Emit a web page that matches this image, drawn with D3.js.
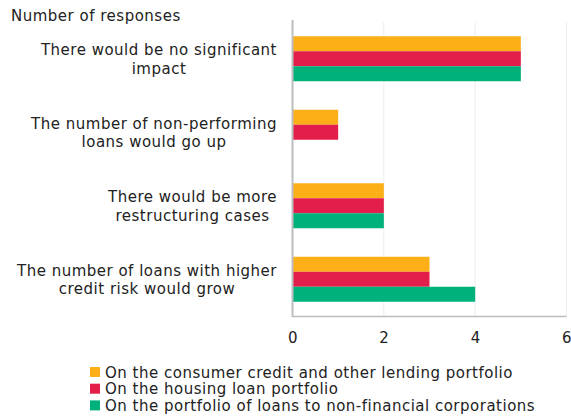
<!DOCTYPE html>
<html>
<head>
<meta charset="utf-8">
<script src="https://cdn.jsdelivr.net/npm/d3@7"></script>
<style>
  html, body { margin: 0; padding: 0; background: #fff; }
  svg { display: block; font-family: "DejaVu Sans", Verdana, sans-serif; }
  svg text { letter-spacing: 0.5px; }
</style>
</head>
<body>
<svg id="chart" width="571" height="420"></svg>
<script>
// Survey answers: how would the situation affect each loan portfolio
const categories = [
  ["There would be no significant", "impact"],
  ["The number of non-performing", "loans would go up"],
  ["There would be more", "restructuring cases"],
  ["The number of loans with higher", "credit risk would grow"]
];
const seriesNames = [
  "On the consumer credit and other lending portfolio",
  "On the housing loan portfolio",
  "On the portfolio of loans to non-financial corporations"
];
const consumerValues = [5, 1, 2, 3];
const housingValues = [5, 1, 2, 3];
const corporateValues = [5, 0, 2, 4];
const xTicks = [0, 2, 4, 6];
const colors = ["#FCAF17", "#E31E4B", "#00B17C"];

const seriesValues = [consumerValues, housingValues, corporateValues];
const fontSize = 15;

const svg = d3.select("#chart");
const plot = { left: 292.5, right: 566.5, top: 22, bottom: 316 };

const x = d3.scaleLinear().domain([0, 6]).range([plot.left, plot.right]);
const y = d3.scaleBand().domain(d3.range(categories.length))
  .range([plot.top, plot.bottom]).paddingInner(0.388).paddingOuter(0.194);
const ySub = d3.scaleBand().domain(d3.range(seriesNames.length)).range([0, y.bandwidth()]);

// vertical grid lines
svg.append("g").selectAll("line").data(xTicks.slice(1)).join("line")
  .attr("x1", d => x(d)).attr("x2", d => x(d))
  .attr("y1", plot.top).attr("y2", plot.bottom)
  .attr("stroke", "#ececec").attr("stroke-width", 1);

// bars
const groups = svg.append("g").selectAll("g").data(categories).join("g")
  .attr("transform", (d, i) => `translate(0,${y(i)})`);
groups.each(function (cat, ci) {
  d3.select(this).selectAll("rect")
    .data(seriesValues.map((vals, si) => ({ si, v: vals[ci] })).filter(d => d.v > 0))
    .join("rect")
    .attr("x", x(0))
    .attr("y", d => ySub(d.si))
    .attr("width", d => x(d.v) - x(0))
    .attr("height", ySub.bandwidth())
    .attr("fill", d => colors[d.si]);
});

// axis lines
svg.append("line").attr("x1", plot.left).attr("x2", plot.left)
  .attr("y1", plot.top - 2).attr("y2", plot.bottom + 1)
  .attr("stroke", "#bdbdbd").attr("stroke-width", 2);
svg.append("line").attr("x1", plot.left).attr("x2", plot.right)
  .attr("y1", plot.bottom + 0.5).attr("y2", plot.bottom + 0.5)
  .attr("stroke", "#bdbdbd").attr("stroke-width", 1.5);

// x tick labels
const xAxis = d3.axisBottom(x).tickValues(xTicks).tickFormat(d3.format("d"))
  .tickSize(0).tickPadding(0);
const xg = svg.append("g").attr("transform", `translate(0,${plot.bottom})`).call(xAxis);
xg.select(".domain").remove();
xg.selectAll("text").attr("y", 27).attr("dy", 0)
  .attr("font-size", fontSize).attr("fill", "#222")
  .attr("font-family", "DejaVu Sans, Verdana, sans-serif");

// category labels: lines centred within a block right-aligned to the axis
const labelRight = 277;
const labels = svg.append("g").attr("font-size", fontSize).attr("fill", "#222");
categories.forEach((lines, i) => {
  const cy = y(i) + y.bandwidth() / 2;
  const t = labels.append("text").attr("text-anchor", "middle");
  const tspans = lines.map((ln, k) => t.append("tspan").text(ln)
    .attr("y", cy - 3.5 + k * 18.5));
  const maxW = d3.max(tspans, s => s.node().getComputedTextLength());
  tspans.forEach(s => s.attr("x", labelRight - maxW / 2));
});

// axis title
svg.append("text").attr("x", 11).attr("y", 21).attr("font-size", fontSize)
  .attr("fill", "#222").text("Number of responses");

// legend
const legend = svg.append("g").attr("font-size", fontSize).attr("fill", "#222");
seriesNames.forEach((name, i) => {
  const ly = 372 + i * 16.7;
  legend.append("rect").attr("x", 90).attr("y", ly - 5).attr("width", 10).attr("height", 10)
    .attr("fill", colors[i]);
  legend.append("text").attr("x", 105).attr("y", ly + 5.5).text(name);
});
</script>
</body>
</html>
